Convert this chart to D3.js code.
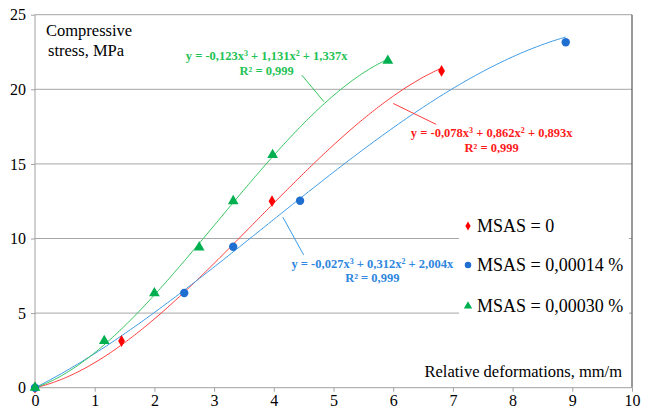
<!DOCTYPE html>
<html><head><meta charset="utf-8">
<script src="https://cdn.jsdelivr.net/npm/d3@7"></script>
<style>html,body{margin:0;padding:0;background:#fff;}svg{display:block;}</style>
</head><body>
<svg id="c" width="654" height="409" font-family="Liberation Serif"></svg>
<script>
// ---- data ----
const xTicks = [0,1,2,3,4,5,6,7,8,9,10];
const yTicks = [0,5,10,15,20,25];
const seriesNames = ["MSAS = 0", "MSAS = 0,00014 %", "MSAS = 0,00030 %"];
const redX   = [0, 1.45, 3.97, 6.81];
const redY   = [0, 3.13, 12.5, 21.23];
const blueX  = [0, 2.50, 3.32, 4.44, 8.89];
const blueY  = [0, 6.35, 9.45, 12.53, 23.15];
const greenX = [0, 1.16, 2.00, 2.75, 3.32, 3.98, 5.91];
const greenY = [0, 3.13, 6.33, 9.41, 12.51, 15.6, 21.92];
// trendline coefficients [a3, a2, a1]
const redCoef   = [-0.078, 0.862, 0.893];
const blueCoef  = [-0.027, 0.312, 2.004];
const greenCoef = [-0.123, 1.131, 1.337];
const redEq   = ["-0,078", "0,862", "0,893"];
const blueEq  = ["-0,027", "0,312", "2,004"];
const greenEq = ["-0,123", "1,131", "1,337"];
const r2Text = "R² = 0,999";
const xTitle = "Relative deformations, mm/m";
const yTitle = ["Compressive", "stress, MPa"];

// ---- layout ----
const FONT = "Liberation Serif";
const svg = d3.select("#c");
const x = d3.scaleLinear().domain([0,10]).range([35,632]);
const y = d3.scaleLinear().domain([0,25]).range([387.7,14.7]);

// gridlines
svg.append("g").selectAll("line").data(yTicks.filter(d=>d>0)).join("line")
  .attr("x1", x(0)).attr("x2", x(10))
  .attr("y1", d=>y(d)).attr("y2", d=>y(d))
  .attr("stroke", "#a6a6a6").attr("stroke-width", 1);

// right border
svg.append("line").attr("x1", x(10)).attr("x2", x(10)).attr("y1", y(25)).attr("y2", y(0))
  .attr("stroke", "#555").attr("stroke-width", 1.2);

// axes
const yAxis = d3.axisLeft(y).tickValues(yTicks).tickSize(4).tickPadding(5).tickFormat(d3.format("d"));
const gy = svg.append("g").attr("transform", `translate(${x(0)},0)`).call(yAxis);
const xAxis = d3.axisBottom(x).tickValues(xTicks).tickSize(4).tickPadding(3).tickFormat(d3.format("d"));
const gx = svg.append("g").attr("transform", `translate(0,${y(0)})`).call(xAxis);
[gx, gy].forEach(g => {
  g.attr("font-family", FONT).attr("font-size", 16);
  g.select(".domain").attr("stroke", "#a0a0a0");
  g.selectAll(".tick line").attr("stroke", "#a0a0a0");
  g.selectAll("text").attr("font-family", FONT).attr("font-size", 16).attr("fill", "#000");
});
gx.select(".domain").attr("d", `M${x(0)},0H${x(10)}`);
gy.select(".domain").attr("d", `M0,${y(0)}V${y(25)}`);

// axis titles
svg.append("text").attr("x", 46).attr("y", 36).text(yTitle[0]).attr("font-family", FONT).attr("font-size", 16.5);
svg.append("text").attr("x", 48).attr("y", 56).text(yTitle[1]).attr("font-family", FONT).attr("font-size", 16.5);
svg.append("text").attr("x", 622).attr("y", 377).attr("text-anchor", "end").text(xTitle).attr("font-family", FONT).attr("font-size", 16.5);

// series
const series = [
  {name: seriesNames[0], xs: redX, ys: redY, coef: redCoef, eq: redEq, line: "#ff3b3b", mark: "#ff0000", text: "#ff1a1a", shape: d3.symbolDiamond, size: 40,
   label: [7.65, 16.77], leader: [[6.00, 19.05], [6.72, 17.65]]},
  {name: seriesNames[1], xs: blueX, ys: blueY, coef: blueCoef, eq: blueEq, line: "#3d9be6", mark: "#1f6fd0", text: "#2e86de", shape: d3.symbolCircle, size: 55,
   label: [5.65, 8.05], leader: [[4.15, 11.44], [4.50, 8.90]]},
  {name: seriesNames[2], xs: greenX, ys: greenY, coef: greenCoef, eq: greenEq, line: "#33c45e", mark: "#00b050", text: "#1fc254", shape: d3.symbolTriangle, size: 50,
   label: [3.88, 21.96], leader: [[4.47, 20.95], [4.84, 19.17]]}
];

const line = d3.line().x(d=>x(d[0])).y(d=>y(d[1]));
series.forEach(s => {
  const xmax = d3.max(s.xs);
  const pts = d3.range(0, 201).map(i => {
    const t = xmax * i / 200;
    return [t, s.coef[0]*t*t*t + s.coef[1]*t*t + s.coef[2]*t];
  });
  svg.append("path").attr("d", line(pts)).attr("fill", "none")
    .attr("stroke", s.line).attr("stroke-width", 1);
});
series.forEach(s => {
  svg.append("g").selectAll("path").data(s.xs.map((v,i)=>[v, s.ys[i]])).join("path")
    .attr("transform", d=>`translate(${x(d[0])},${y(d[1])})`)
    .attr("d", d3.symbol().type(s.shape).size(s.size)).attr("fill", s.mark);
});

// equation labels
series.forEach(s => {
  svg.append("line")
    .attr("x1", x(s.leader[0][0])).attr("y1", y(s.leader[0][1]))
    .attr("x2", x(s.leader[1][0])).attr("y2", y(s.leader[1][1]))
    .attr("stroke", s.line).attr("stroke-width", 1);
  const cx = x(s.label[0]), cy = y(s.label[1]);
  const t = svg.append("text").attr("x", cx).attr("y", cy).attr("text-anchor", "middle")
    .attr("font-family", FONT).attr("font-size", 12.5).attr("font-weight", "bold").attr("fill", s.text);
  t.append("tspan").text(`y = ${s.eq[0]}x`);
  t.append("tspan").text("3").attr("dy", -4).attr("font-size", 8);
  t.append("tspan").text(` + ${s.eq[1]}x`).attr("dy", 4);
  t.append("tspan").text("2").attr("dy", -4).attr("font-size", 8);
  t.append("tspan").text(` + ${s.eq[2]}x`).attr("dy", 4);
  svg.append("text").attr("x", cx).attr("y", cy + 14.5).attr("text-anchor", "middle")
    .attr("font-family", FONT).attr("font-size", 12.5).attr("font-weight", "bold").attr("fill", s.text).text(r2Text);
});

// legend
const lg = svg.append("g");
lg.append("rect").attr("x", 459).attr("y", 208).attr("width", 170).attr("height", 120).attr("fill", "#fff");
const legY = [226, 265, 306];
series.forEach((s, i) => {
  lg.append("path").attr("transform", `translate(468,${legY[i]})`)
    .attr("d", d3.symbol().type(s.shape).size(s.size*0.6)).attr("fill", s.mark);
  lg.append("text").attr("x", 477).attr("y", legY[i] + 6).text(s.name)
    .attr("font-family", FONT).attr("font-size", 18).attr("fill", "#000");
});
</script>
</body></html>
